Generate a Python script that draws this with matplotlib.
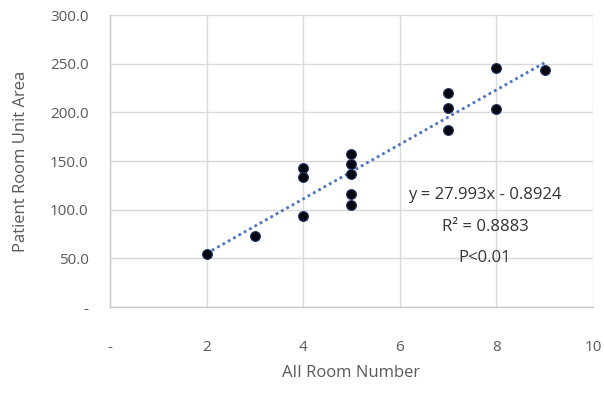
import matplotlib
matplotlib.use("Agg")
import matplotlib.pyplot as plt
import numpy as np
from matplotlib.ticker import FuncFormatter

plt.rcParams['font.family'] = ['Open Sans', 'DejaVu Sans']

# Data
room_number = [2, 3, 4, 4, 4, 5, 5, 5, 5, 5, 7, 7, 7, 8, 8, 9]
unit_area = [54, 73, 143, 134, 93, 157, 147, 137, 116, 105, 220, 204, 182, 246, 203, 243]

slope = 27.993
intercept = -0.8924
eq_lines = ["y = 27.993x - 0.8924", "R² = 0.8883", "P<0.01"]

x_ticks = [0, 2, 4, 6, 8, 10]
y_ticks = [0, 50, 100, 150, 200, 250, 300]

fig = plt.figure(figsize=(6.04, 4.08), dpi=100)
ax = fig.add_axes([0.1821, 0.2475, 0.7997, 0.7157])

grey = '#595959'
gridc = '#d9d9d9'

ax.set_xlim(0, 10)
ax.set_ylim(0, 300)
ax.set_xticks(x_ticks)
ax.set_yticks(y_ticks)
ax.xaxis.set_major_formatter(FuncFormatter(lambda v, p: '-' if v == 0 else f'{v:.0f}'))
ax.yaxis.set_major_formatter(FuncFormatter(lambda v, p: '-' if v == 0 else f'{v:.1f}'))
ax.grid(True, color=gridc, linewidth=1)
ax.set_axisbelow(True)
for s in ['top', 'right']:
    ax.spines[s].set_visible(False)
for s in ['left', 'bottom']:
    ax.spines[s].set_color('#c8c8c8')
    ax.spines[s].set_linewidth(1)
ax.tick_params(axis='both', length=0, colors=grey, labelsize=11)
ax.tick_params(axis='x', pad=24)
ax.tick_params(axis='y', pad=15.5)

xs = np.array([min(room_number), max(room_number)], dtype=float)
ax.plot(xs, slope * xs + intercept, linestyle=(0, (1, 1.2)), color='#4a76c0',
        linewidth=2, zorder=2)
ax.scatter(room_number, unit_area, s=50, facecolor='#050510', edgecolor='#1f3864',
           linewidth=0.8, zorder=3)

ax.set_xlabel('AII Room Number', color=grey, fontsize=12, labelpad=7)
ax.set_ylabel('Patient Room Unit Area', color=grey, fontsize=12, labelpad=15)

for t, yy in zip(eq_lines, [195, 227, 258]):
    fig.text(485 / 604, 1 - yy / 408, t, ha='center', va='center', fontsize=12, color='#333333')

fig.savefig('out.png', dpi=100)
